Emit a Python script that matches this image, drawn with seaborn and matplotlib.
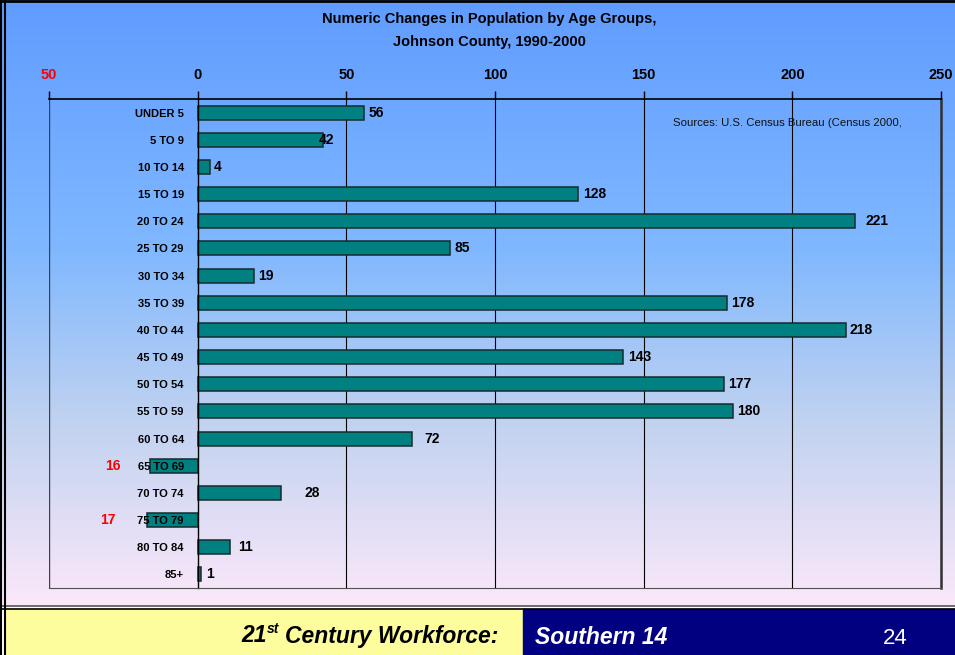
import numpy as np
import pandas as pd
import matplotlib
matplotlib.use("Agg")
import matplotlib.pyplot as plt
from matplotlib.lines import Line2D
from matplotlib.patches import Rectangle
from matplotlib.ticker import FixedLocator
import seaborn as sns

# data
age_groups = ["UNDER 5", "5 TO 9", "10 TO 14", "15 TO 19", "20 TO 24", "25 TO 29",
              "30 TO 34", "35 TO 39", "40 TO 44", "45 TO 49", "50 TO 54", "55 TO 59",
              "60 TO 64", "65 TO 69", "70 TO 74", "75 TO 79", "80 TO 84", "85+"]
change = [56, 42, 4, 128, 221, 85, 19, 178, 218, 143, 177, 180, 72, -16, 28, -17, 11, 1]
x_ticks = [-50, 0, 50, 100, 150, 200, 250]
x_ticklabels = ["50", "0", "50", "100", "150", "200", "250"]

# label nudges (pixels) to mimic the original placement
label_pad = [4, -4, 4, 5, 11, 4, 4, 4, 4, 5, 4, 4, 13, -29, 24, -31, 8, 5]

df = pd.DataFrame({"group": age_groups, "change": change})

sns.set_style("white")
plt.rcParams["font.family"] = ["Liberation Sans", "DejaVu Sans"]
plt.rcParams["text.color"] = "black"
plt.rcParams["xtick.color"] = "black"
plt.rcParams["ytick.color"] = "black"

W, H = 955, 655
fig = plt.figure(figsize=(W / 100, H / 100), dpi=100)

# slide background gradient
bg = fig.add_axes([0, 0, 1, 1])
bg.set_xlim(0, W)
bg.set_ylim(H, 0)
bg.axis("off")
rows = np.linspace(0, 607, 400)
stops_y = [0, 250, 420, 607]
stops_c = np.array([[96, 156, 255], [128, 184, 255], [192, 210, 240], [252, 232, 250]]) / 255
grad = np.stack([np.interp(rows, stops_y, stops_c[:, k]) for k in range(3)], axis=1)
bg.imshow(grad[:, None, :], extent=[0, W, 607, 0], aspect="auto", zorder=0)

# footer boxes
bg.add_patch(Rectangle((5, 609), 518, 46, color="#fdfd9e", zorder=1))
bg.add_patch(Rectangle((523, 609), 432, 46, color="#000080", zorder=1))
bg.add_line(Line2D([0, W], [606, 606], color="#555555", lw=1.2, zorder=2))
bg.add_line(Line2D([0, W], [608.5, 608.5], color="black", lw=1.2, zorder=2))
bg.add_line(Line2D([0, W], [1, 1], color="black", lw=2, zorder=2))
bg.add_line(Line2D([1, 1], [0, H], color="black", lw=1.5, zorder=2))
bg.add_line(Line2D([5, 5], [0, H], color="black", lw=1.5, zorder=2))

# footer text
t1 = bg.text(498, 636, "Century Workforce:", ha="right", va="center", fontsize=16.5,
             fontweight="bold", style="italic", color="black")
fig.canvas.draw()
r = fig.canvas.get_renderer()
ext = t1.get_window_extent(r)
st = fig.text((ext.x0 - 5) / W, 1 - 629 / H, "st", ha="right", va="center", fontsize=10,
              fontweight="bold", style="italic")
ext2 = st.get_window_extent(r)
fig.text(ext2.x0 / W, 1 - 636 / H, "21", ha="right", va="center", fontsize=16.5,
         fontweight="bold", style="italic")
bg.text(535, 637, "Southern 14", ha="left", va="center", fontsize=16.5,
        fontweight="bold", style="italic", color="white")
bg.text(895, 639, "24", ha="center", va="center", fontsize=16, color="white")

# title
fig.text(489 / W, 1 - 19 / H, "Numeric Changes in Population by Age Groups,",
         ha="center", va="center", fontsize=10.5, fontweight="bold")
fig.text(489 / W, 1 - 42 / H, "Johnson County, 1990-2000",
         ha="center", va="center", fontsize=10.5, fontweight="bold")

# chart
ax = fig.add_axes([49 / W, 1 - 588 / H, (941 - 49) / W, (588 - 99) / H])
ax.set_facecolor("none")
ax.set_axisbelow(False)
for gx in x_ticks[2:-1]:
    ax.axvline(gx, color="black", lw=0.8, zorder=0.5)
ax.axvline(-50, color="#404040", lw=1, zorder=0.5)

sns.barplot(data=df, y="group", x="change", orient="h", color="#008080",
            edgecolor="#142c2c", linewidth=1.1, width=0.52, saturation=1, ax=ax)

ax.set_xlim(-50, 250)
ax.set_ylim(len(age_groups) - 0.5, -0.5)
ax.set_xlabel("")
ax.set_ylabel("")
ax.grid(False)

ax.xaxis.tick_top()
ax.set_xticks(x_ticks)
ax.set_xticklabels(x_ticklabels, fontsize=10.5, fontweight="bold")
ax.get_xticklabels()[0].set_color("red")
ax.tick_params(axis="x", length=6, width=1, pad=6, color="black", top=True, bottom=False)

ax.spines["left"].set_position(("data", 0))
ax.spines["left"].set_color("black")
ax.spines["left"].set_linewidth(1)
ax.spines["top"].set_color("black")
ax.spines["top"].set_linewidth(1.2)
ax.spines["bottom"].set_color("#505050")
ax.spines["right"].set_color("#303030")
ax.spines["right"].set_linewidth(1.8)

ax.set_yticks(range(len(age_groups)))
ax.set_yticklabels(age_groups, fontsize=8, fontweight="bold")
ax.tick_params(axis="y", which="major", length=0, pad=10)
ax.yaxis.set_minor_locator(FixedLocator(np.arange(0.5, len(age_groups) - 0.5, 1)))
ax.tick_params(axis="y", which="minor", length=4, width=1, color="black", direction="out")

for i, (v, p) in enumerate(zip(change, label_pad)):
    neg = v < 0
    ax.annotate(str(abs(v)), xy=(v, i), xytext=(p, 0), textcoords="offset pixels",
                ha="right" if neg else "left", va="center", fontsize=10,
                fontweight="bold", color="red" if neg else "black")

ax.text(160, 0.37, "Sources: U.S. Census Bureau (Census 2000,", fontsize=8.2,
        va="center", ha="left", color="#111111")

fig.savefig("out.png", dpi=100)
